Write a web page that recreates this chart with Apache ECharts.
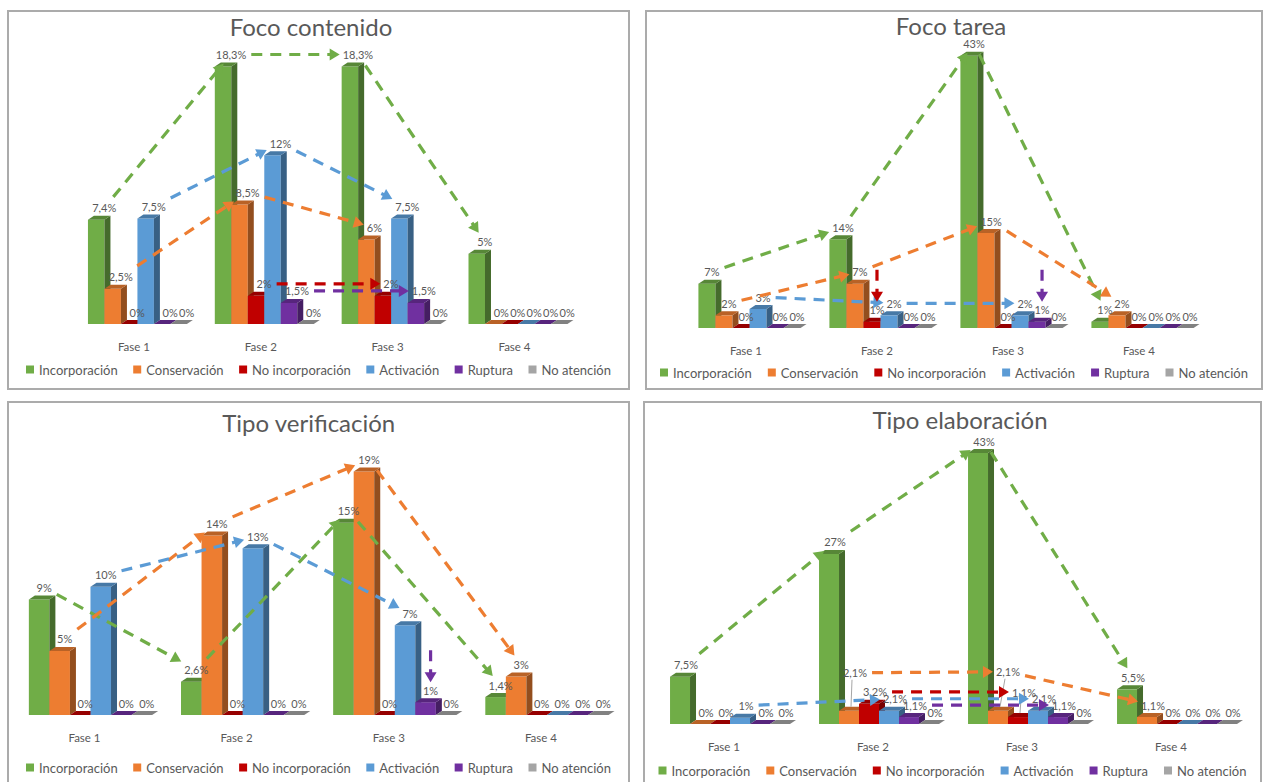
<!DOCTYPE html>
<html>
<head>
<meta charset="utf-8">
<script src="https://cdn.jsdelivr.net/npm/echarts@6.0.0/dist/echarts.min.js"></script>
<style>
  html, body { margin:0; padding:0; background:#ffffff; }
  body { width:1270px; height:782px; position:relative; overflow:hidden; }
  .chart { position:absolute; }
  .frame { position:absolute; border:2px solid #ababab; box-sizing:border-box; pointer-events:none; }
</style>
</head>
<body>
<div id="c0" class="chart" style="left:7px;top:10px;width:623px;height:380px"></div>
<div class="frame" style="left:7px;top:10px;width:623px;height:380px"></div>
<div id="c1" class="chart" style="left:645px;top:10px;width:618px;height:380px"></div>
<div class="frame" style="left:645px;top:10px;width:618px;height:380px"></div>
<div id="c2" class="chart" style="left:7px;top:401px;width:623px;height:390px"></div>
<div class="frame" style="left:7px;top:401px;width:623px;height:390px"></div>
<div id="c3" class="chart" style="left:643px;top:401px;width:619px;height:390px"></div>
<div class="frame" style="left:643px;top:401px;width:619px;height:390px"></div>
<script>
// ---------------- DATA ----------------
const fases = ['Fase 1', 'Fase 2', 'Fase 3', 'Fase 4'];
const categorias = ['Incorporación', 'Conservación', 'No incorporación', 'Activación', 'Ruptura', 'No atención'];
const titulos = ['Foco contenido', 'Foco tarea', 'Tipo verificación', 'Tipo elaboración'];

// Foco contenido (%)
const fcIncorporacion   = [7.4, 18.3, 18.3, 5];
const fcConservacion    = [2.5, 8.5, 6, 0];
const fcNoIncorporacion = [0, 2, 2, 0];
const fcActivacion      = [7.5, 12, 7.5, 0];
const fcRuptura         = [0, 1.5, 1.5, 0];
const fcNoAtencion      = [0, 0, 0, 0];

// Foco tarea (%)
const ftIncorporacion   = [7, 14, 43, 1];
const ftConservacion    = [2, 7, 15, 2];
const ftNoIncorporacion = [0, 1, 0, 0];
const ftActivacion      = [3, 2, 2, 0];
const ftRuptura         = [0, 0, 1, 0];
const ftNoAtencion      = [0, 0, 0, 0];

// Tipo verificación (%)
const tvIncorporacion   = [9, 2.6, 15, 1.4];
const tvConservacion    = [5, 14, 19, 3];
const tvNoIncorporacion = [0, 0, 0, 0];
const tvActivacion      = [10, 13, 7, 0];
const tvRuptura         = [0, 0, 1, 0];
const tvNoAtencion      = [0, 0, 0, 0];

// Tipo elaboración (%)
const teIncorporacion   = [7.5, 27, 43, 5.5];
const teConservacion    = [0, 2.1, 2.1, 1.1];
const teNoIncorporacion = [0, 3.2, 1.1, 0];
const teActivacion      = [1, 2.1, 2.1, 0];
const teRuptura         = [0, 1.1, 1.1, 0];
const teNoAtencion      = [0, 0, 0, 0];

// Flechas: [serie, fase origen, fase destino]; caídas: [serie, fase]
const fcFlechas = [[0,0,1],[0,1,2],[0,2,3],[1,0,1],[1,1,2],[3,0,1],[3,1,2],[2,1,2],[4,1,2]];
const fcCaidas  = [];
const ftFlechas = [[0,0,1],[0,1,2],[0,2,3],[1,0,1],[1,1,2],[1,2,3],[3,0,1],[3,1,2]];
const ftCaidas  = [[2,1],[4,2]];
const tvFlechas = [[0,0,1],[0,1,2],[0,2,3],[1,0,1],[1,1,2],[1,2,3],[3,0,1],[3,1,2]];
const tvCaidas  = [[4,2]];
const teFlechas = [[0,0,1],[0,1,2],[0,2,3],[1,1,2],[1,2,3],[3,0,1],[3,1,2],[2,1,2],[4,1,2]];
const teCaidas  = [];

// ---------------- STYLE / LAYOUT ----------------
const COLORS = ['#70AD47', '#ED7D31', '#C00000', '#5B9BD5', '#7030A0', '#A5A5A5'];
const FONT = 'Lato, "Noto Sans", sans-serif';
const TXT = '#595959';
const DX = 6, DY = 4;

const panels = [
  { el: 'c0', values: [fcIncorporacion, fcConservacion, fcNoIncorporacion, fcActivacion, fcRuptura, fcNoAtencion],
    flechas: fcFlechas, caidas: fcCaidas,
    grid: { left: 67, right: 48.6, top: 14, height: 300 }, ymax: 21.32, frac: 0.78, ldx: 8, axShift: 3.5,
    titleCx: 304, titleCy: 17, legendCy: 360, legendW: 585, nudge: {} },
  { el: 'c1', values: [ftIncorporacion, ftConservacion, ftNoIncorporacion, ftActivacion, ftRuptura, ftNoAtencion],
    flechas: ftFlechas, caidas: ftCaidas,
    grid: { left: 39, right: 55, top: 14, height: 304 }, ymax: 48.0, frac: 0.78, ldx: 5, axShift: 3.5,
    titleCx: 306, titleCy: 16, legendCy: 363, legendW: 588, nudge: {} },
  { el: 'c2', values: [tvIncorporacion, tvConservacion, tvNoIncorporacion, tvActivacion, tvRuptura, tvNoAtencion],
    flechas: tvFlechas, caidas: tvCaidas,
    grid: { left: 7.4, right: 7, top: 14, height: 300 }, ymax: 23.4, frac: 0.81, ldx: 5, axShift: 6,
    titleCx: 302, titleCy: 22, legendCy: 367, legendW: 585, nudge: {} },
  { el: 'c3', values: [teIncorporacion, teConservacion, teNoIncorporacion, teActivacion, teRuptura, teNoAtencion],
    flechas: teFlechas, caidas: teCaidas,
    grid: { left: 12.5, right: 10.5, top: 14, height: 309 }, ymax: 49.05, frac: 0.805, ldx: 6, axShift: 6,
    titleCx: 317, titleCy: 19, legendCy: 370, legendW: 588,
    nudge: { '1-1': [0, -26, 1], '1-2': [4, -27, 1], '2-2': [0, -13, 1] } }
];

// ---------------- HELPERS ----------------
const measureCtx = document.createElement('canvas').getContext('2d');
function measure(text, font) { measureCtx.font = font; return measureCtx.measureText(text).width; }
function fmt(v) { return String(v).replace('.', ',') + '%'; }
function shade(hex, k) {
  const n = parseInt(hex.slice(1), 16);
  const r = Math.round(((n >> 16) & 255) * k), g = Math.round(((n >> 8) & 255) * k), b = Math.round((n & 255) * k);
  return 'rgb(' + r + ',' + g + ',' + b + ')';
}
const LABEL_FONT = '11px Lato';

function barGeom(api, cfg, s, phase, v) {
  const bw = api.size([1, 0])[0] * cfg.frac / 6;
  const p0 = api.coord([phase, 0]);
  const x0 = p0[0] - 3 * bw + s * bw;
  const top = api.coord([phase, v])[1];
  return { bw: bw, x0: x0, x1: x0 + bw, base: p0[1], top: top };
}
function labelPos(api, cfg, s, phase, v) {
  const g = barGeom(api, cfg, s, phase, v);
  let x = g.x0 + g.bw / 2 + cfg.ldx, y = g.top - 12;
  const n = cfg.nudge[s + '-' + phase];
  if (n) { x += n[0]; y += n[1]; }
  return { x: x, y: y, w: measure(fmt(v), LABEL_FONT), g: g, leader: n && n[2] };
}

function makeBarRender(cfg, s) {
  return function (params, api) {
    const phase = api.value(0), v = api.value(1);
    const g = barGeom(api, cfg, s, phase, v);
    const c = COLORS[s];
    const ch = [];
    if (g.base - g.top > 0.5) {
      ch.push({ type: 'rect', shape: { x: g.x0, y: g.top, width: g.bw, height: g.base - g.top }, style: { fill: c } });
    }
    ch.push({ type: 'polygon', shape: { points: [[g.x1, g.top], [g.x1 + DX, g.top - DY], [g.x1 + DX, g.base - DY], [g.x1, g.base]] },
              style: { fill: shade(c, 0.62) } });
    ch.push({ type: 'polygon', shape: { points: [[g.x0, g.top], [g.x0 + DX, g.top - DY], [g.x1 + DX, g.top - DY], [g.x1, g.top]] },
              style: { fill: shade(c, 0.78) } });
    const L = labelPos(api, cfg, s, phase, v);
    if (L.leader) {
      ch.push({ type: 'line', shape: { x1: L.x - 3, y1: L.y + 7, x2: g.x0 + g.bw / 2 + 2, y2: g.top - DY }, z2: 90,
                style: { stroke: '#a6a6a6', lineWidth: 1 } });
    }
    ch.push({ type: 'text', z2: 100,
              style: { text: fmt(v), x: L.x, y: L.y, align: 'center', verticalAlign: 'middle',
                       fill: TXT, fontSize: 11, fontFamily: FONT } });
    return { type: 'group', children: ch };
  };
}

function exitT(hw, hh, ux, uy) {
  const a = Math.abs(ux) > 1e-6 ? hw / Math.abs(ux) : Infinity;
  const b = Math.abs(uy) > 1e-6 ? hh / Math.abs(uy) : Infinity;
  return Math.min(a, b);
}

function makeArrowRender(cfg) {
  return function (params, api) {
    const p1 = api.value(0), v1 = api.value(1), p2 = api.value(2), v2 = api.value(3);
    const s = api.value(4), kind = api.value(5);
    const c = COLORS[s];
    const AH = 10, AW = 12;
    let sx, sy, ex, ey;
    if (kind === 1) {
      const b = labelPos(api, cfg, s, p2, v2);
      ex = b.x; ey = b.y - 8; sx = b.x; sy = ey - 32;
    } else {
      const a = labelPos(api, cfg, s, p1, v1), b = labelPos(api, cfg, s, p2, v2);
      const dx = b.x - a.x, dy = b.y - a.y, len = Math.hypot(dx, dy);
      const ux = dx / len, uy = dy / len;
      const tA = exitT(a.w / 2 + 5, 11, ux, uy), tB = exitT(b.w / 2 + 3, 9, ux, uy);
      sx = a.x + ux * tA; sy = a.y + uy * tA; ex = b.x - ux * tB; ey = b.y - uy * tB;
    }
    const dx = ex - sx, dy = ey - sy, len = Math.hypot(dx, dy);
    const ux = dx / len, uy = dy / len;
    const bx = ex - ux * AH, by = ey - uy * AH;
    const px = -uy * AW / 2, py = ux * AW / 2;
    return { type: 'group', children: [
      { type: 'line', shape: { x1: sx, y1: sy, x2: bx + ux, y2: by + uy },
        style: { stroke: c, lineWidth: 3.2, lineDash: [11, 8], lineCap: 'butt' } },
      { type: 'polygon', shape: { points: [[ex, ey], [bx + px, by + py], [bx - px, by - py]] }, style: { fill: c } }
    ] };
  };
}

// ---------------- BUILD ----------------
panels.forEach(function (cfg, pi) {
  const chart = echarts.init(document.getElementById(cfg.el), null, { renderer: 'svg' });
  const titleFont = '24px Lato';
  const tw = measure(titulos[pi], titleFont);
  const legendFont = '13px Lato';
  const textSum = categorias.reduce(function (a, n) { return a + measure(n, legendFont); }, 0);
  const gap = (cfg.legendW - textSum - 6 * (8 + 5)) / 5;

  const series = cfg.values.map(function (vals, s) {
    return {
      type: 'custom', name: categorias[s], z: 2,
      itemStyle: { color: COLORS[s] },
      renderItem: makeBarRender(cfg, s),
      encode: { x: 0, y: 1 },
      data: vals.map(function (v, i) { return [i, v]; })
    };
  });
  const arrowData = [];
  cfg.flechas.forEach(function (f) {
    const vals = cfg.values[f[0]];
    arrowData.push([f[1], vals[f[1]], f[2], vals[f[2]], f[0], 0]);
  });
  cfg.caidas.forEach(function (f) {
    const vals = cfg.values[f[0]];
    arrowData.push([f[1], vals[f[1]], f[1], vals[f[1]], f[0], 1]);
  });
  series.push({
    type: 'custom', name: 'flechas', z: 3, silent: true,
    renderItem: makeArrowRender(cfg),
    encode: { x: [0, 2], y: [1, 3] },
    data: arrowData
  });

  chart.setOption({
    animation: false,
    backgroundColor: '#ffffff',
    title: {
      text: titulos[pi], left: cfg.titleCx - tw / 2, top: cfg.titleCy - 13, padding: 0,
      textStyle: { fontFamily: FONT, fontSize: 24, fontWeight: 'normal', color: TXT }
    },
    legend: {
      data: categorias, left: 'center', top: cfg.legendCy - 7, padding: 0,
      itemWidth: 8, itemHeight: 8, itemGap: gap, icon: 'rect', selectedMode: false,
      textStyle: { fontFamily: FONT, fontSize: 13, color: TXT }
    },
    grid: { left: cfg.grid.left, right: cfg.grid.right, top: cfg.grid.top, height: cfg.grid.height, containLabel: false },
    xAxis: {
      type: 'category', data: fases, boundaryGap: true,
      axisLine: { show: false }, axisTick: { show: false }, splitLine: { show: false },
      axisLabel: { color: TXT, fontFamily: FONT, fontSize: 11.5, margin: 16, padding: [0, cfg.axShift * 2, 0, 0] }
    },
    yAxis: { type: 'value', min: 0, max: cfg.ymax, show: false, splitLine: { show: false } },
    series: series
  });
});
</script>
</body>
</html>
